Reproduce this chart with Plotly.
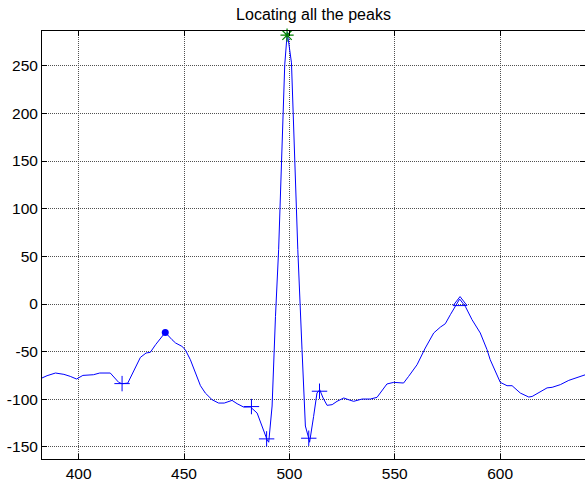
import plotly.graph_objects as go

# ECG signal vertices
sig_x = [381.8, 385, 389, 393, 396, 399, 402, 407, 410, 415, 419, 420.6, 423.3, 425.8, 429.3,
         432, 434, 436.5, 441.1, 444.3, 446, 449, 450.6, 453, 455.4, 457.8, 460.1, 463.3,
         466.4, 469.1, 472.8, 475.2, 478.3, 481.5, 484.7, 487, 489.4, 490.2, 491.8, 493.4,
         494.9, 497.8, 499, 501, 504, 506, 507.6, 509.2, 509.6, 511.5, 513.1, 514.4, 516,
         517.9, 520.3, 522.6, 525.8, 528.1, 530.5, 534.5, 538.4, 541.6, 546.3, 549.5, 551.9,
         554.2, 556.6, 560.6, 564.5, 568.5, 571.7, 574, 576.4, 578.8, 580.8, 583.5, 586.7,
         590.6, 593.8, 595.3, 598.6, 600.1, 603.3, 605.7, 609.6, 613.6, 615.2, 619.1, 622.3,
         624.7, 628.6, 632.6, 637.3, 640.5, 642]
sig_y = [-78.4, -75.2, -72.4, -73.8, -75.9, -78.7, -74.9, -74.2, -72.4, -72.4, -82.2, -83.6,
         -83.0, -72.4, -56.0, -51.4, -50.7, -42.7, -29.8, -37.4, -40.9, -44.4, -47.9, -58.4,
         -72.4, -85.7, -93.4, -100.4, -103.9, -103.9, -101.1, -104.6, -108.1, -108.0, -114.4,
         -128.4, -142.3, -145.0, -107.0, -13.0, 57.0, 251.0, 285.0, 253.0, 57.0, -48.0,
         -128.0, -141.0, -145.0, -117.9, -93.4, -90.0, -98.6, -106.3, -105.6, -102.1, -98.6,
         -100.4, -102.1, -99.7, -99.7, -97.9, -83.9, -82.2, -82.9, -82.9, -75.9, -63.7, -46.2,
         -30.4, -24.2, -20.7, -11.2, -2.5, 5.2, -2.5, -16.5, -30.4, -47.9, -58.4, -75.9,
         -82.2, -85.7, -85.7, -93.4, -97.6, -97.0, -91.6, -88.0, -87.4, -84.6, -80.1, -76.6,
         -74.2, -74.0]

# detected points
plus_x = [420.6, 482.0, 489.2, 509.2, 514.3]
plus_y = [-83.5, -107.6, -141.5, -140.8, -91.5]
dot_x = [441.1]
dot_y = [-29.8]
tri_x = [581.0]
tri_y = [1.5]
star_x = [498.9]
star_y = [282.0]

x_ticks = [400, 450, 500, 550, 600]
y_ticks = [-150, -100, -50, 0, 50, 100, 150, 200, 250]

title_text = "Locating all the peaks"

fig = go.Figure()
fig.add_trace(go.Scatter(x=sig_x, y=sig_y, mode="lines",
                         line=dict(color="#0000ff", width=1), showlegend=False))
fig.add_trace(go.Scatter(x=plus_x, y=plus_y, mode="markers", showlegend=False,
                         marker=dict(symbol="cross-thin", size=11,
                                     line=dict(color="#0000ff", width=1))))
fig.add_trace(go.Scatter(x=dot_x, y=dot_y, mode="markers", showlegend=False,
                         marker=dict(symbol="circle", size=7, color="#0000ff")))
fig.add_trace(go.Scatter(x=tri_x, y=tri_y, mode="markers", showlegend=False,
                         marker=dict(symbol="triangle-up-open", size=12, color="#0000ff",
                                     line=dict(color="#0000ff", width=1))))
fig.add_trace(go.Scatter(x=star_x, y=star_y, mode="markers", showlegend=False, cliponaxis=False,
                         marker=dict(symbol="asterisk-open", size=11, color="#008000",
                                     line=dict(color="#008000", width=1.2))))

axis_common = dict(showgrid=True, gridcolor="#505050", griddash="1px,1px", gridwidth=1,
                   zeroline=False, showline=True, linecolor="black", linewidth=1,
                   mirror="ticks", ticks="inside", ticklen=5, tickcolor="black", tickwidth=1,
                   tickfont=dict(family="Liberation Sans, Arial, sans-serif", size=15.5, color="black"))

fig.update_xaxes(range=[382.6, 640.3], tickvals=x_ticks, ticktext=[str(v) for v in x_ticks],
                 **axis_common)
fig.update_yaxes(range=[-162.6, 286.4], tickvals=y_ticks, ticktext=[str(v) for v in y_ticks],
                 **axis_common)

fig.update_layout(
    width=585, height=486,
    margin=dict(l=42, r=0, t=31, b=27),
    paper_bgcolor="white", plot_bgcolor="white",
    title=dict(text=title_text, x=0.5, xref="paper", xanchor="center",
               y=1 - 14 / 486, yref="container", yanchor="middle",
               font=dict(family="Liberation Sans, Arial, sans-serif", size=16, color="black")),
)

fig.write_html("out.html")
